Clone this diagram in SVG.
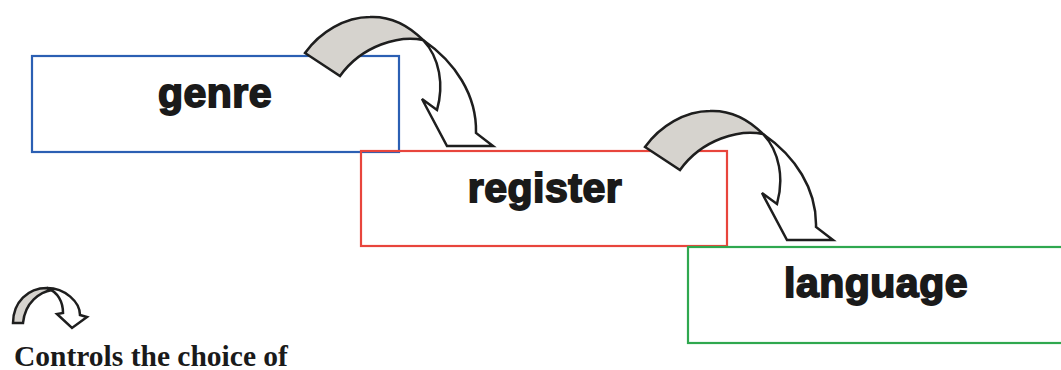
<svg xmlns="http://www.w3.org/2000/svg" width="1061" height="370" viewBox="0 0 1061 370">
<style>
.box{fill:none;stroke-width:2.2}
.lbl{font-family:"Liberation Sans",Arial,sans-serif;font-weight:bold;font-size:41px;fill:#1a1a1a;stroke:#1a1a1a;stroke-width:1.8;text-anchor:middle;letter-spacing:0.5px}
.back{fill:#d6d3ce;stroke:#1e1e1e;stroke-width:2.5;stroke-linejoin:miter}
.front{fill:#ffffff;stroke:#1e1e1e;stroke-width:2.5;stroke-linejoin:miter}
.legend{font-family:"Liberation Serif","Times New Roman",serif;font-weight:bold;font-size:29.5px;fill:#1a1a1a}
</style>
<rect width="1061" height="370" fill="#ffffff"/>
<g id="genre">
<rect class="box" x="32" y="56" width="367" height="96" stroke="#2b5fb3"/>
<text class="lbl" x="215" y="107">genre</text>
</g>
<g id="register">
<rect class="box" x="361" y="151" width="366" height="95" stroke="#e8453c"/>
<text class="lbl" x="545" y="202">register</text>
</g>
<g id="language">
<rect class="box" x="688" y="247" width="380" height="96" stroke="#2fa84f"/>
<text class="lbl" x="876" y="297">language</text>
</g>
<g id="connectors">
<g id="arrow1">
<path class="back" d="M305,53 C320,32 345,17 370,17 C392,16 410,27 423,40 C400,35 362,45 340,76 Z"/>
<path class="front" d="M423,40 C455,62 477,95 476,133 L493,146 L447,146 L422,99 L437,110 C444,85 440,58 423,40 Z"/>
</g>
<g id="arrow2" transform="translate(340,94)">
<path class="back" d="M305,53 C320,32 345,17 370,17 C392,16 410,27 423,40 C400,35 362,45 340,76 Z"/>
<path class="front" d="M423,40 C455,62 477,95 476,133 L493,146 L447,146 L422,99 L437,110 C444,85 440,58 423,40 Z"/>
</g>
</g>
<g id="legend">
<path class="back" d="M13,323 C13,302 28,288 47,288 L52,290 C40,292 25,302 23,323 Z"/>
<path class="front" d="M47,288 C65,288 80,302 80,315 L87,317 L72,328 L57,314 L63,313 C63,302 58,292 47,288 Z"/>
<text class="legend" x="14" y="366">Controls the choice of</text>
</g>
</svg>
